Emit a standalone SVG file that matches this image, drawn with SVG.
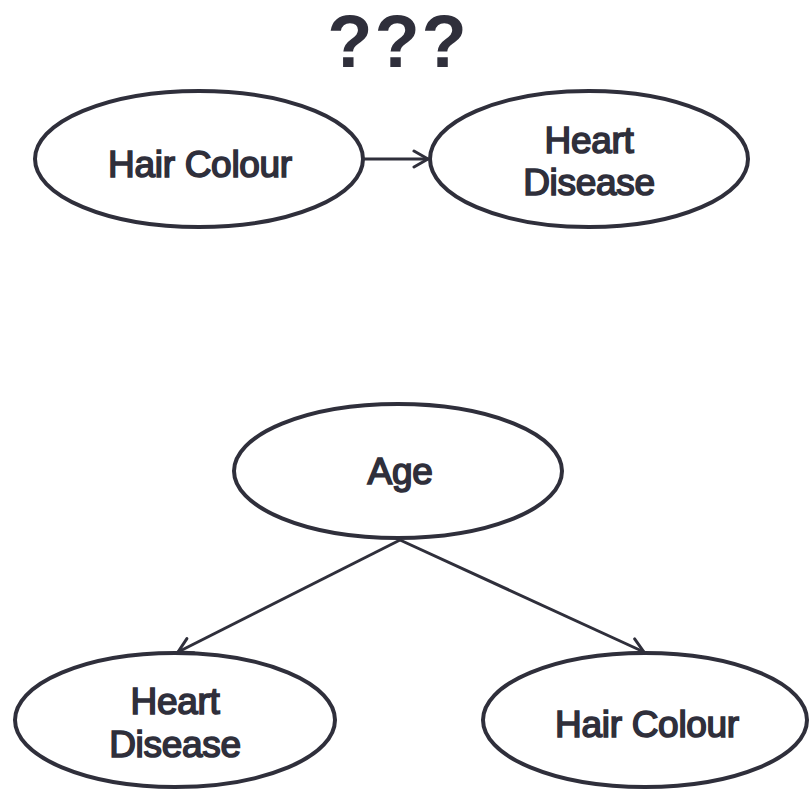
<svg xmlns="http://www.w3.org/2000/svg" width="809" height="789" viewBox="0 0 809 789">
<style>
.node ellipse{fill:#fff;stroke:#2f2f3b;stroke-width:4}
.lbl{font-family:"Liberation Sans",Arial,sans-serif;font-size:37px;fill:#2f2f3b;stroke:#2f2f3b;stroke-width:1.6;letter-spacing:-0.3px;text-anchor:middle}
.title{font-family:"Liberation Sans",Arial,sans-serif;font-size:74px;font-weight:bold;fill:#2f2f3b;text-anchor:middle;letter-spacing:2px}
.edge{stroke:#2f2f3b;stroke-width:3;fill:none;marker-end:url(#arr)}
</style>
<defs>
<marker id="arr" viewBox="0 0 20 20" refX="18" refY="10" markerWidth="20" markerHeight="20" markerUnits="userSpaceOnUse" orient="auto">
<path d="M4,2 L18,10 L4,18" fill="none" stroke="#2f2f3b" stroke-width="3" stroke-linecap="round" stroke-linejoin="round"/>
</marker>
</defs>
<rect width="809" height="789" fill="#fff"/>
<text class="title" x="398" y="67">???</text>
<g id="connectors">
<line class="edge" x1="363" y1="159" x2="428" y2="159"/>
<line class="edge" x1="400" y1="540" x2="178" y2="652"/>
<line class="edge" x1="400" y1="540" x2="644" y2="652"/>
</g>
<g id="hair1" class="node">
<ellipse cx="199" cy="159" rx="164" ry="68"/>
<text class="lbl" x="200" y="177">Hair Colour</text>
</g>
<g id="heart1" class="node">
<ellipse cx="589" cy="159" rx="159" ry="68"/>
<text class="lbl" x="589" y="153">Heart</text>
<text class="lbl" x="589" y="195">Disease</text>
</g>
<g id="age" class="node">
<ellipse cx="398" cy="471" rx="164" ry="67"/>
<text class="lbl" x="400" y="484">Age</text>
</g>
<g id="heart2" class="node">
<ellipse cx="175" cy="720" rx="160" ry="67"/>
<text class="lbl" x="175" y="714">Heart</text>
<text class="lbl" x="175" y="757">Disease</text>
</g>
<g id="hair2" class="node">
<ellipse cx="645" cy="720" rx="162" ry="67"/>
<text class="lbl" x="647" y="737">Hair Colour</text>
</g>
</svg>
